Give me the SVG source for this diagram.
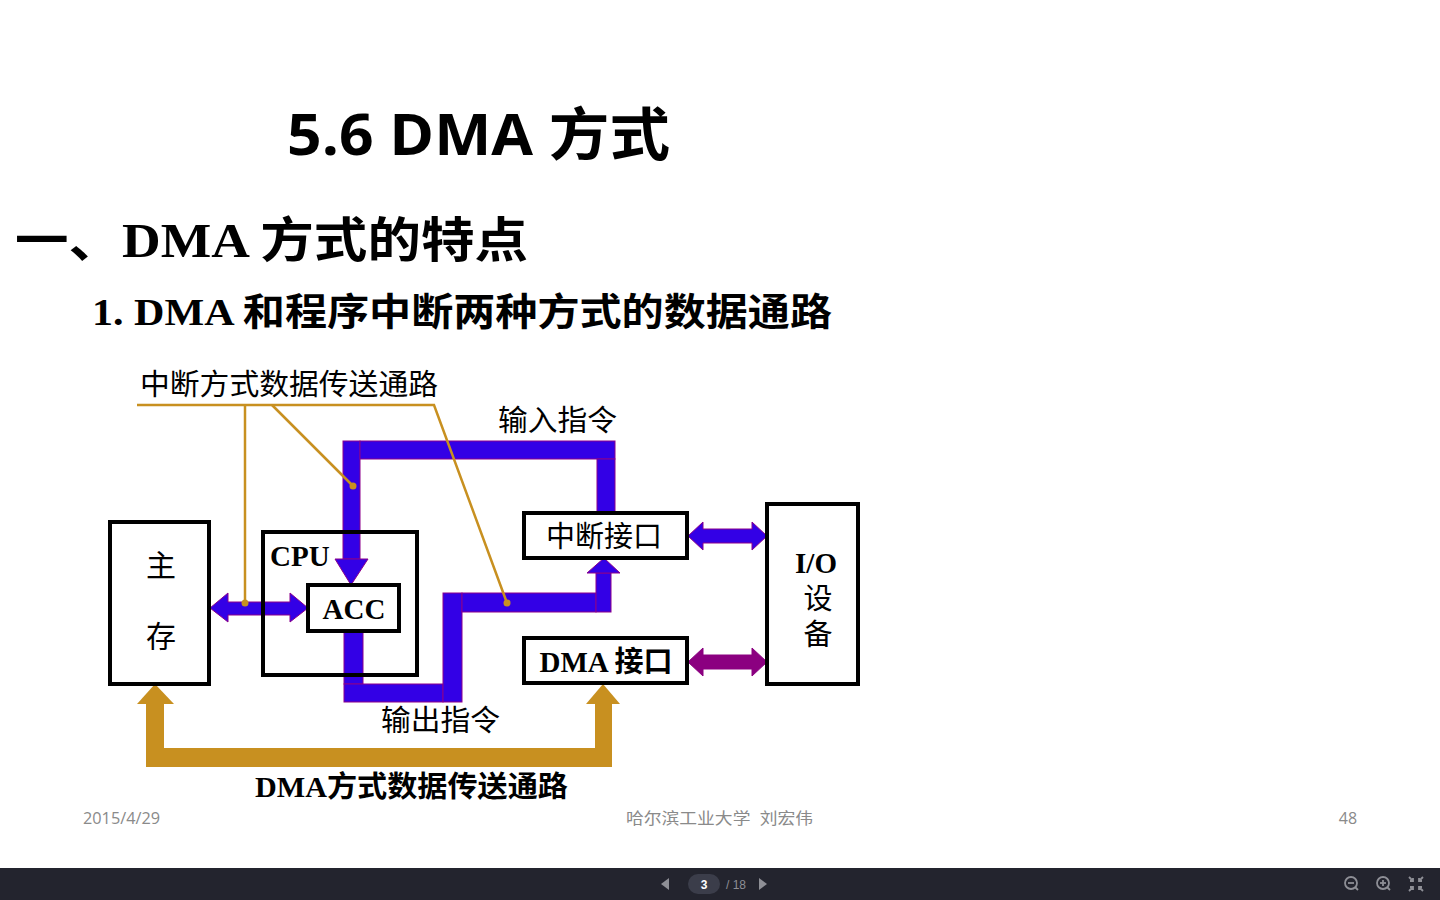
<svg xmlns="http://www.w3.org/2000/svg" width="1440" height="900" viewBox="0 0 1440 900">
<style>
.ser{font-family:"Liberation Serif","Noto Sans CJK SC",serif;fill:#000}
.b{font-weight:bold}
.box{fill:#fff;stroke:#000;stroke-width:4}
.blue{fill:#3300E6;stroke:#8B008B;stroke-width:1}
.purple{fill:#8B0080;stroke:#8B0080;stroke-width:1}
.gold{fill:#C89020}
.lead{fill:none;stroke:#C89020;stroke-width:2.5}
.foot{font-family:"Open Sans","Noto Sans CJK SC",sans-serif;font-size:16px;fill:#8a8a8a}
</style>
<rect width="1440" height="900" fill="#fff"/>
<text x="287" y="155" font-family="Open Sans, Noto Sans CJK SC, sans-serif" font-weight="bold" font-size="57" textLength="383" lengthAdjust="spacingAndGlyphs">5.6 DMA 方式</text>
<text x="15" y="257" class="ser b" font-size="48" textLength="513" lengthAdjust="spacingAndGlyphs">一、DMA 方式的特点</text>
<text x="92" y="325" class="ser b" font-size="38" textLength="740" lengthAdjust="spacingAndGlyphs">1. DMA 和程序中断两种方式的数据通路</text>

<g id="connectors">
  <g id="input-path">
    <rect class="blue" x="343" y="441" width="17" height="118"/>
    <rect class="blue" x="360" y="441" width="255" height="18"/>
    <rect class="blue" x="597" y="459" width="18" height="54"/>
    <polygon class="blue" points="335,559 368,559 351,585"/>
  </g>
  <g id="output-path">
    <rect class="blue" x="344" y="631" width="19" height="53"/>
    <rect class="blue" x="344" y="684" width="99" height="18"/>
    <rect class="blue" x="443" y="593" width="19" height="109"/>
    <rect class="blue" x="462" y="593" width="134" height="19"/>
    <rect class="blue" x="596" y="573" width="15" height="39"/>
    <polygon class="blue" points="587,573 620,573 604,558"/>
  </g>
  <polygon id="mem-acc" class="blue" points="210,608 228,593 228,602 290,602 290,593 308,608 290,622 290,615 228,615 228,622"/>
  <polygon id="int-io" class="blue" points="688,536 703,522 703,529 752,529 752,522 767,536 752,550 752,543 703,543 703,550"/>
  <polygon id="dma-io" class="purple" points="688,662 703,648 703,655 752,655 752,648 767,662 752,676 752,669 703,669 703,676"/>
  <g id="dma-path">
    <rect class="gold" x="146" y="704" width="18" height="63"/>
    <polygon class="gold" points="137,704 174,704 155,684"/>
    <rect class="gold" x="146" y="748" width="466" height="19"/>
    <rect class="gold" x="595" y="704" width="17" height="63"/>
    <polygon class="gold" points="586,704 620,704 603,684"/>
  </g>
  <g id="leaders">
    <polyline class="lead" points="137,405 434,405 507,603"/>
    <line class="lead" x1="245" y1="405" x2="245" y2="603"/>
    <line class="lead" x1="272" y1="405" x2="353" y2="486"/>
    <circle cx="245" cy="603" r="3.5" fill="#C89020"/>
    <circle cx="353" cy="486" r="3.5" fill="#C89020"/>
    <circle cx="507" cy="603" r="3.5" fill="#C89020"/>
  </g>
</g>

<g id="memory">
  <rect class="box" x="110" y="522" width="99" height="162" fill-opacity="0"/>
  <text x="161" y="576" class="ser" font-size="30" text-anchor="middle">主</text>
  <text x="161" y="647" class="ser" font-size="30" text-anchor="middle">存</text>
</g>
<g id="cpu">
  <rect x="263" y="532" width="154" height="143" fill="none" stroke="#000" stroke-width="4"/>
  <text x="270" y="566" class="ser b" font-size="29">CPU</text>
</g>
<g id="acc">
  <rect class="box" x="308" y="585" width="91" height="46"/>
  <text x="354" y="619" class="ser b" font-size="29" text-anchor="middle">ACC</text>
</g>
<g id="int-interface">
  <rect class="box" x="524" y="513" width="163" height="45"/>
  <text x="604" y="547" class="ser" font-size="29" text-anchor="middle">中断接口</text>
</g>
<g id="dma-interface">
  <rect class="box" x="524" y="638" width="163" height="45"/>
  <text x="606" y="672" class="ser b" font-size="29" text-anchor="middle">DMA 接口</text>
</g>
<g id="io">
  <rect class="box" x="767" y="504" width="91" height="180" fill-opacity="0"/>
  <text x="816" y="573" class="ser b" font-size="29" text-anchor="middle">I/O</text>
  <text x="818" y="609" class="ser" font-size="29" text-anchor="middle">设</text>
  <text x="818" y="645" class="ser" font-size="29" text-anchor="middle">备</text>
</g>

<text x="140" y="395" class="ser" font-size="29" textLength="298" lengthAdjust="spacingAndGlyphs">中断方式数据传送通路</text>
<text x="498" y="431" class="ser" font-size="29" textLength="119" lengthAdjust="spacingAndGlyphs">输入指令</text>
<text x="381" y="731" class="ser" font-size="29" textLength="119" lengthAdjust="spacingAndGlyphs">输出指令</text>
<text x="255" y="797" class="ser b" font-size="29" textLength="313" lengthAdjust="spacingAndGlyphs">DMA方式数据传送通路</text>

<text x="83" y="824" class="foot" textLength="77" lengthAdjust="spacingAndGlyphs">2015/4/29</text>
<text x="626" y="824" class="foot" xml:space="preserve" textLength="187" lengthAdjust="spacingAndGlyphs">哈尔滨工业大学  刘宏伟</text>
<text x="1348" y="824" class="foot" text-anchor="middle">48</text>

<g id="toolbar">
  <rect x="0" y="868" width="1440" height="32" fill="#23242e"/>
  <polygon points="669,878 669,890 661,884" fill="#8e8f96"/>
  <rect x="688" y="874" width="32" height="20" rx="10" fill="#3b3d4a"/>
  <text x="704" y="888.5" font-family="Liberation Sans, sans-serif" font-size="12" font-weight="bold" fill="#fff" text-anchor="middle">3</text>
  <text x="736" y="888.5" font-family="Liberation Sans, sans-serif" font-size="12" fill="#8e8f96" text-anchor="middle">/ 18</text>
  <polygon points="759,878 759,890 767,884" fill="#8e8f96"/>
  <g fill="none" stroke="#8e8f96" stroke-width="1.8">
    <circle cx="1351" cy="883" r="6"/>
    <line x1="1355" y1="887" x2="1358" y2="890"/>
    <line x1="1348" y1="883" x2="1354" y2="883"/>
    <circle cx="1383" cy="883" r="6"/>
    <line x1="1387" y1="887" x2="1390" y2="890"/>
    <line x1="1380" y1="883" x2="1386" y2="883"/>
    <line x1="1383" y1="880" x2="1383" y2="886"/>
    <path d="M1409,877 L1413,881 M1413,878 V881 H1410 M1423,877 L1419,881 M1419,878 V881 H1422 M1409,891 L1413,887 M1413,890 V887 H1410 M1423,891 L1419,887 M1419,890 V887 H1422"/>
  </g>
</g>
</svg>
